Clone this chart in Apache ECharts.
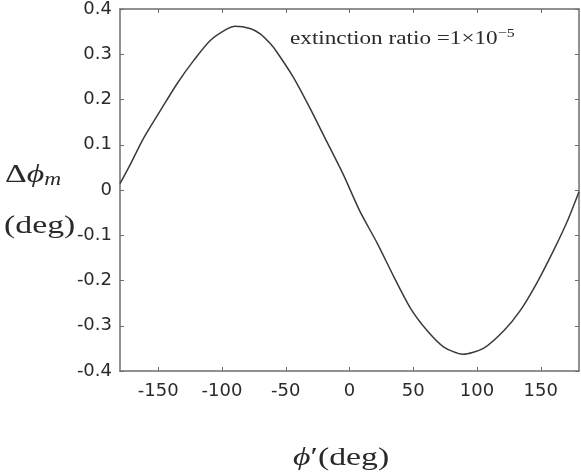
<!DOCTYPE html>
<html>
<head>
<meta charset="utf-8">
<script src="https://cdn.jsdelivr.net/npm/echarts@6/dist/echarts.min.js"></script>
<style>
  html, body { margin: 0; padding: 0; background: #fff; }
  #chart { width: 581px; height: 472px; }
</style>
</head>
<body>
<div id="chart"></div>
<script>
// ====== Phase error vs phi' ======
(function() {
  // values
  var phiDeg = [-180, -172, -162, -148, -135, -122, -109, -96, -90, -78, -70, -62, -57, -44, -31,
                -18, -5, 8, 22, 35, 48, 61, 74, 89, 105, 121, 134, 147, 160, 171, 180];
  var deltaPhi = [0.014, 0.056, 0.112, 0.177, 0.236, 0.287, 0.331, 0.356, 0.362, 0.357, 0.345, 0.323, 0.305, 0.249, 0.181,
                  0.108, 0.035, -0.046, -0.119, -0.193, -0.262, -0.311, -0.347, -0.363, -0.350, -0.311, -0.266, -0.205, -0.134, -0.068, -0.004];
  var xTicks = [-150, -100, -50, 0, 50, 100, 150];

  var ink = '#2a2a2a';
  var frame = '#6e6e6e';
  var tickFont = 'DejaVu Sans';
  var serif = '"Liberation Serif", "Times New Roman", serif';

  var points = phiDeg.map(function(x, i) { return [x, deltaPhi[i]]; });

  var chart = echarts.init(document.getElementById('chart'), null, { renderer: 'canvas' });

  var boxLine = { show: true, onZero: false, lineStyle: { color: frame, width: 1.5 } };

  chart.setOption({
    animation: false,
    backgroundColor: '#fff',
    grid: { left: 120, right: 2, top: 7, bottom: 101 },
    xAxis: [
      {
        type: 'value', position: 'bottom',
        min: -180, max: 180,
        axisLine: boxLine,
        axisTick: { show: true, inside: true, length: 4, customValues: xTicks, lineStyle: { color: frame } },
        axisLabel: { show: true, customValues: xTicks, color: ink, fontFamily: tickFont, fontSize: 18, margin: 11 },
        splitLine: { show: false }
      },
      {
        type: 'value', position: 'top',
        min: -180, max: 180,
        axisLine: boxLine,
        axisTick: { show: true, inside: true, length: 4, customValues: xTicks, lineStyle: { color: frame } },
        axisLabel: { show: false },
        splitLine: { show: false }
      }
    ],
    yAxis: [
      {
        type: 'value', position: 'left',
        min: -0.4, max: 0.4, interval: 0.1,
        axisLine: boxLine,
        axisTick: { show: true, inside: true, length: 4, lineStyle: { color: frame } },
        axisLabel: { color: ink, fontFamily: tickFont, fontSize: 18, margin: 8 },
        splitLine: { show: false }
      },
      {
        type: 'value', position: 'right',
        min: -0.4, max: 0.4, interval: 0.1,
        axisLine: boxLine,
        axisTick: { show: true, inside: true, length: 4, lineStyle: { color: frame } },
        axisLabel: { show: false },
        splitLine: { show: false }
      }
    ],
    series: [
      {
        type: 'line',
        xAxisIndex: 0, yAxisIndex: 0,
        data: points,
        smooth: 0.25,
        symbol: 'none',
        lineStyle: { color: '#3a3a3a', width: 1.5 }
      }
    ],
    graphic: [
      {
        type: 'text', left: 5, top: 162, scaleX: 1.3,
        style: {
          text: '{a|Δ}{b|ϕ}{c|m}',
          fill: ink,
          rich: {
            a: { fontFamily: serif, fontSize: 26, fill: ink },
            b: { fontFamily: serif, fontSize: 26, fontStyle: 'italic', fill: ink },
            c: { fontFamily: serif, fontSize: 18, fontStyle: 'italic', fill: ink, padding: [10, 0, 0, 0] }
          }
        }
      },
      {
        type: 'text', left: 4, top: 213, scaleX: 1.3,
        style: { text: '(deg)', fill: ink, font: '26px ' + serif }
      },
      {
        type: 'text', left: 293, top: 445, scaleX: 1.3,
        style: {
          text: '{b|ϕ}{a|′(deg)}',
          fill: ink,
          rich: {
            a: { fontFamily: serif, fontSize: 26, fill: ink },
            b: { fontFamily: serif, fontSize: 26, fontStyle: 'italic', fill: ink }
          }
        }
      },
      {
        type: 'text', left: 290, top: 27, scaleX: 1.22,
        style: {
          text: '{a|extinction ratio =1×10}{s|−5}',
          fill: ink,
          rich: {
            a: { fontFamily: serif, fontSize: 19, fill: ink },
            s: { fontFamily: serif, fontSize: 13, fill: ink, padding: [0, 0, 12, 0] }
          }
        }
      }
    ]
  });

  window.addEventListener('resize', function() {
    chart.resize();
  });
})();
</script>
</body>
</html>
